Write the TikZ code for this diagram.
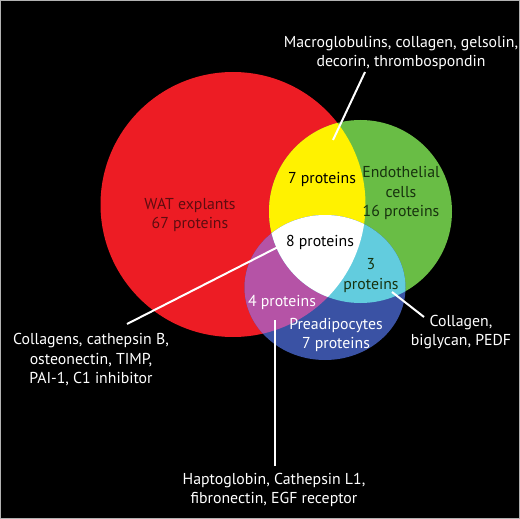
\documentclass[tikz,border=0pt]{standalone}
\usepackage{fontspec}
\setmainfont{PT Sans}
\usetikzlibrary{positioning}
\definecolor{watred}{HTML}{ED1C24}
\definecolor{endogreen}{HTML}{69BD45}
\definecolor{preblue}{HTML}{3A52A4}
\definecolor{rgyellow}{HTML}{FFF200}
\definecolor{rbpurple}{HTML}{B553A6}
\definecolor{gbcyan}{HTML}{62CCDE}
\definecolor{watdark}{HTML}{5E0C10}
\definecolor{endodark}{HTML}{17320E}
\tikzset{
  lbl/.style={align=center,inner sep=0pt,font=\fontsize{15.8}{19.5}\selectfont},
  callout/.style={white,line width=2pt}
}
\def\watpath{(233,204.5) circle[radius=132.5pt]}
\def\endopath{(360.5,211.5) circle[radius=91.5pt]}
\def\prepath{(325,287.5) ellipse[x radius=80.5pt,y radius=72.5pt]}
\begin{document}
\begin{tikzpicture}[x=1pt,y=-1pt]
\fill[black] (0,0) rectangle (520,519);
\draw[gray!60,line width=1.2pt] (0.6,0.6) rectangle (519.4,518.4);

\fill[watred] \watpath;
\fill[endogreen] \endopath;
\fill[preblue] \prepath;
\begin{scope}
  \clip \watpath;
  \fill[rgyellow] \endopath;
  \fill[rbpurple] \prepath;
\end{scope}
\begin{scope}
  \clip \endopath;
  \fill[gbcyan] \prepath;
  \clip \prepath;
  \fill[white] \watpath;
\end{scope}

\node[lbl,text=watdark] (wat) at (190,215) {WAT explants\\67 proteins};
\node[lbl,text=endodark] (endo) at (401,193) {Endothelial\\cells\\16 proteins};
\node[lbl,white] (pre) at (336,335) {Preadipocytes\\7 proteins};
\node[lbl] (rg) at (322,179) {7 proteins};
\node[lbl] (all) at (320,242) {8 proteins};
\node[lbl,text=endodark] (gb) at (371,275.5) {3\\proteins};
\node[lbl,white] (rb) at (282,302) {4 proteins};

\node[lbl,white] (macro) at (401,53) {Macroglobulins, collagen, gelsolin,\\decorin, thrombospondin};
\node[lbl,white] (colla) at (91,360) {Collagens, cathepsin B,\\osteonectin, TIMP,\\PAI-1, C1 inhibitor};
\node[lbl,white] (bigly) at (461,332) {Collagen,\\biglycan, PEDF};
\node[lbl,white] (hapto) at (274,490) {Haptoglobin, Cathepsin L1,\\fibronectin, EGF receptor};

\coordinate (macroend) at (333,140);
\coordinate (collaend) at (278,247);
\coordinate (biglyend) at (392,292);
\coordinate (haptoend) at (275,320);
\draw[callout] (365,72) -- (macroend);
\draw[callout] (127,324) -- (collaend);
\draw[callout] (424,317) -- (biglyend);
\draw[callout] (275,466) -- (haptoend);
\end{tikzpicture}
\end{document}
